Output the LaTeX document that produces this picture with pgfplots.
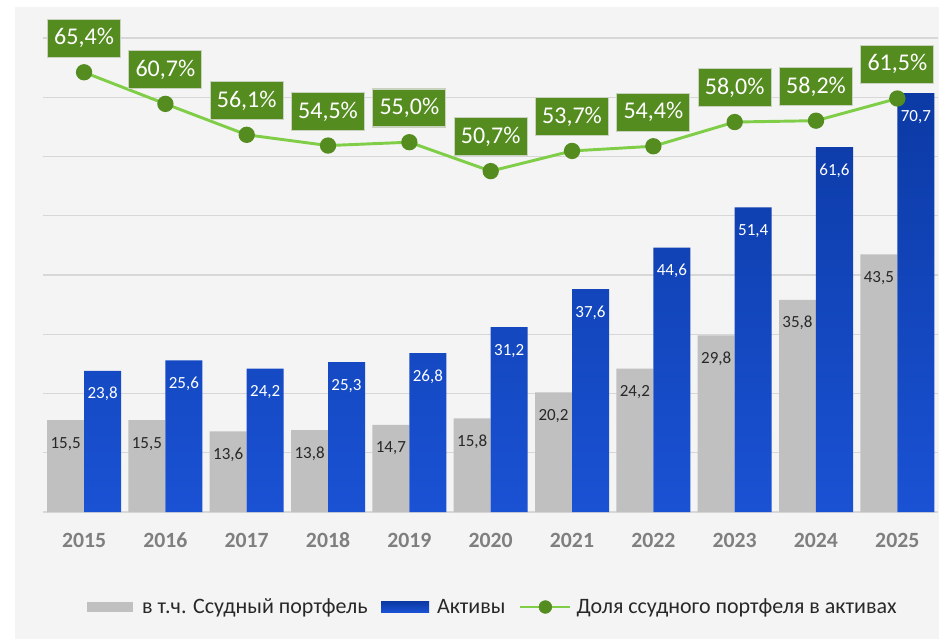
\documentclass[border=0pt]{standalone}
\usepackage{fontspec}
\setmainfont{Carlito}
\usepackage{pgfplots}
\pgfplotsset{compat=1.18}
\usetikzlibrary{backgrounds}

\definecolor{gbar}{RGB}{192,192,192}
\definecolor{bbarT}{RGB}{12,58,165}
\definecolor{bbarB}{RGB}{26,82,212}
\definecolor{lgreen}{RGB}{128,206,72}
\definecolor{dgreen}{RGB}{84,140,32}
\definecolor{boxborder}{RGB}{200,210,190}
\definecolor{gridc}{RGB}{215,215,215}
\definecolor{panel}{RGB}{244,244,244}
\definecolor{yearc}{RGB}{127,127,127}
\definecolor{txt}{RGB}{40,40,40}

\begin{document}
\begin{tikzpicture}
% bars: loan portfolio and assets
\begin{axis}[
  at={(0,0)}, anchor=south west, scale only axis,
  width=670.95pt, height=355.5pt,
  xmin=2014.5, xmax=2025.5, ymin=0, ymax=80,
  axis line style={draw=none}, major tick length=0,
  xtick={2015,...,2025},
  xticklabels={2015,2016,2017,2018,2019,2020,2021,2022,2023,2024,2025},
  xticklabel style={font=\bfseries\fontsize{16.3}{16.3}\selectfont, text=yearc, anchor=base, yshift=-26.25pt},
  ytick={0,10,...,80}, yticklabels={},
  ymajorgrids, grid style={gridc, line width=1pt},
  clip=false,
  legend style={at={(0.5,0)}, anchor=center, xshift=2pt, yshift=-71.25pt, draw=none, fill=none,
    font=\fontsize{16.5}{16.5}\selectfont, text=txt, legend columns=3,
    /tikz/every even column/.append style={column sep=8pt}},
]
\addplot[ybar, bar width=0.455, bar shift=0pt, draw=none, fill=gbar,
  x filter/.expression={x-0.2275},
  nodes near coords,
  every node near coord/.append style={font=\fontsize{12.75}{12.75}\selectfont, text=txt,
    anchor=base, yshift=-21pt,
    /pgf/number format/.cd, fixed, fixed zerofill, precision=1, use comma, assume math mode=true},
  legend image code/.code={\fill[gbar] (0pt,-4pt) rectangle (34pt,4pt); \path (39pt,0pt);}]
  coordinates {(2015,15.5) (2016,15.5) (2017,13.6) (2018,13.8) (2019,14.7) (2020,15.8)
               (2021,20.2) (2022,24.2) (2023,29.8) (2024,35.8) (2025,43.5)};
\addlegendentry{в т.ч. Ссудный портфель}
\addplot[ybar, bar width=0.455, bar shift=0pt, draw=none, top color=bbarT, bottom color=bbarB,
  x filter/.expression={x+0.2275},
  nodes near coords,
  every node near coord/.append style={font=\fontsize{12.75}{12.75}\selectfont, text=white,
    anchor=base, yshift=-21pt,
    /pgf/number format/.cd, fixed, fixed zerofill, precision=1, use comma, assume math mode=true},
  legend image code/.code={\fill[bbarB!85!bbarT] (0pt,-4pt) rectangle (36pt,4pt); \path (40pt,0pt);}]
  coordinates {(2015,23.8) (2016,25.6) (2017,24.2) (2018,25.3) (2019,26.8) (2020,31.2)
               (2021,37.6) (2022,44.6) (2023,51.4) (2024,61.6) (2025,70.7)};
\addlegendentry{Активы}
\addlegendimage{legend image code/.code={\draw[lgreen, line width=2.2pt] (0pt,0pt) -- (37.5pt,0pt);
  \fill[dgreen] (18.75pt,0pt) circle (4.8pt); \path (40pt,0pt);}}
\addlegendentry{Доля ссудного портфеля в активах}
\end{axis}

% share of loan portfolio in assets
\begin{axis}[
  at={(0,0)}, anchor=south west, scale only axis,
  width=670.95pt, height=355.5pt,
  xmin=2014.5, xmax=2025.5, ymin=0, ymax=70.5,
  hide axis, clip=false,
]
\addplot[lgreen, line width=2.2pt, mark=*, mark size=5pt, mark options={draw=dgreen, fill=dgreen},
  nodes near coords={\pgfmathprintnumber{\pgfplotspointmeta}\%},
  every node near coord/.append style={fill=dgreen, draw=boxborder, line width=0.8pt, text=white,
    font=\fontsize{18}{18}\selectfont, minimum height=28.5pt, inner xsep=5pt,
    anchor=south, yshift=11pt,
    /pgf/number format/.cd, fixed, fixed zerofill, precision=1, use comma, assume math mode=true}]
  coordinates {(2015,65.4) (2016,60.7) (2017,56.1) (2018,54.5) (2019,55.0) (2020,50.7)
               (2021,53.7) (2022,54.4) (2023,58.0) (2024,58.2) (2025,61.5)};
\end{axis}

\begin{pgfonlayer}{background}
  \fill[white] (-32.55pt,-95.25pt) rectangle (671.7pt,384pt);
  \fill[panel] (-21.3pt,-95.25pt) rectangle (671.7pt,378.75pt);
\end{pgfonlayer}
\pgfresetboundingbox
\path[use as bounding box] (-32.55pt,-95.25pt) rectangle (671.7pt,384pt);
\end{tikzpicture}
\end{document}
